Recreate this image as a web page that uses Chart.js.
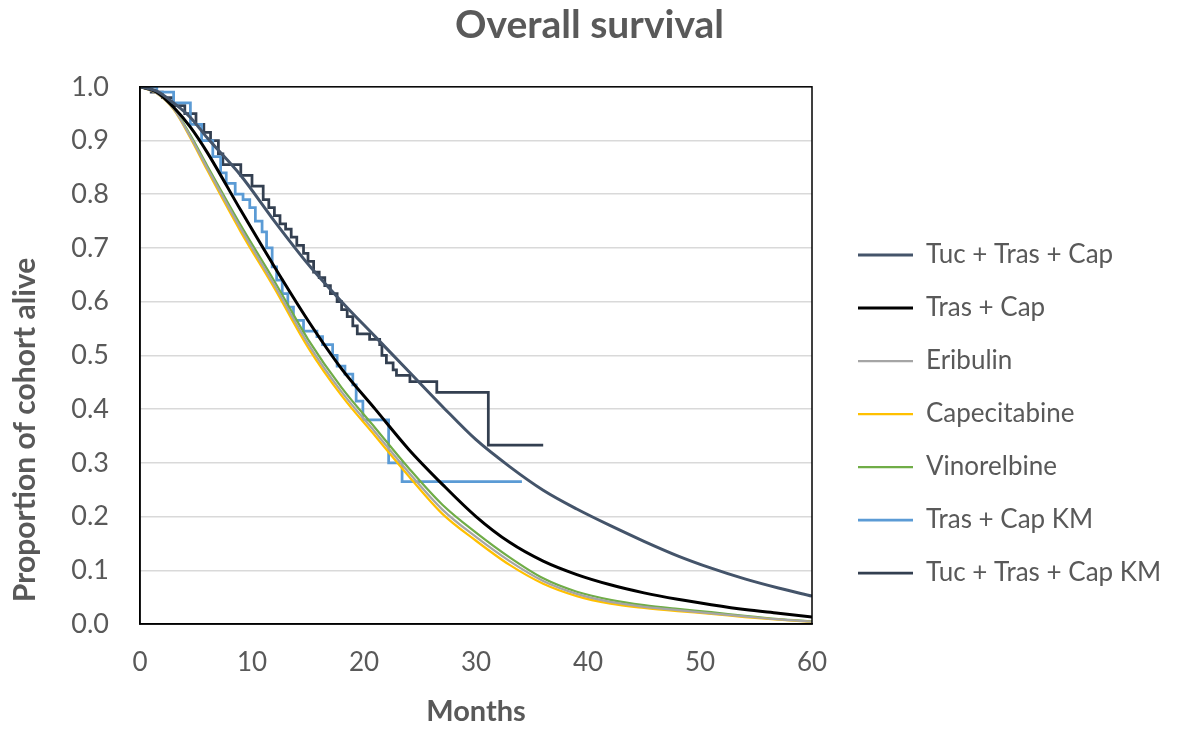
<!DOCTYPE html>
<html>
<head>
<meta charset="utf-8">
<title>Overall survival</title>
<script src="https://cdn.jsdelivr.net/npm/chart.js@4.4.1/dist/chart.umd.min.js"></script>
<style>
  html, body { margin: 0; padding: 0; background: #fff; }
</style>
</head>
<body>
<canvas id="survivalChart" width="1179" height="731"></canvas>
<script>
// modelled curves (closer spacing in the first months)
const curveMonths = [0, 1.5, 3, 4.5, 6, 9, 12, 15, 18, 21, 24, 27, 30, 33, 36, 39, 42, 45, 48, 51, 54, 57, 60];
const tucTrasCap = [1, 0.992, 0.97, 0.943, 0.905, 0.835, 0.75, 0.67, 0.6, 0.535, 0.47, 0.405, 0.343, 0.293, 0.249, 0.214, 0.183, 0.154, 0.127, 0.104, 0.084, 0.067, 0.052];
const trasCap = [1, 0.99, 0.962, 0.925, 0.878, 0.77, 0.665, 0.565, 0.475, 0.4, 0.325, 0.26, 0.2, 0.152, 0.117, 0.092, 0.073, 0.058, 0.046, 0.036, 0.027, 0.02, 0.013];
const eribulin = [1, 0.988, 0.959, 0.907, 0.849, 0.736, 0.631, 0.522, 0.432, 0.357, 0.282, 0.213, 0.162, 0.117, 0.08, 0.056, 0.041, 0.032, 0.026, 0.02, 0.014, 0.0085, 0.0045];
const capecitabine = [1, 0.988, 0.958, 0.905, 0.845, 0.73, 0.625, 0.515, 0.425, 0.35, 0.275, 0.205, 0.155, 0.11, 0.075, 0.052, 0.038, 0.03, 0.024, 0.019, 0.013, 0.008, 0.004];
const vinorelbine = [1, 0.989, 0.96, 0.91, 0.853, 0.742, 0.638, 0.53, 0.44, 0.365, 0.29, 0.222, 0.17, 0.124, 0.085, 0.06, 0.045, 0.035, 0.028, 0.022, 0.015, 0.009, 0.005];

// Kaplan-Meier steps (time of drop, survival after drop)
const kmTrasCapMonths = [0, 1.5, 3, 4.5, 5.5, 6.5, 7.2, 7.7, 8.5, 9.2, 9.8, 10.3, 10.9, 11.3, 11.8, 12.2, 12.7, 13.2, 13.7, 14.6, 15.8, 16.3, 17.2, 17.6, 18.3, 19.0, 19.3, 19.9, 22.2, 23.4, 34.1];
const kmTrasCapSurv = [1, 0.99, 0.97, 0.93, 0.90, 0.87, 0.84, 0.82, 0.80, 0.79, 0.775, 0.75, 0.73, 0.70, 0.665, 0.64, 0.615, 0.59, 0.565, 0.545, 0.535, 0.52, 0.50, 0.48, 0.465, 0.445, 0.415, 0.38, 0.30, 0.265, 0.265];
const kmTucMonths = [0, 1, 2, 3, 4, 5, 5.7, 6.3, 7, 7.4, 9, 10, 11, 11.5, 12, 12.5, 13, 13.5, 14, 14.6, 15, 15.5, 16, 16.5, 17, 17.6, 18, 18.5, 19, 19.4, 20.5, 21.4, 21.6, 22, 22.6, 22.9, 24.1, 26.5, 31.1, 36.0];
const kmTucSurv = [1, 0.99, 0.98, 0.965, 0.95, 0.93, 0.915, 0.9, 0.875, 0.855, 0.835, 0.815, 0.79, 0.775, 0.76, 0.745, 0.735, 0.72, 0.705, 0.69, 0.675, 0.655, 0.645, 0.63, 0.615, 0.6, 0.585, 0.572, 0.555, 0.54, 0.53, 0.52, 0.5, 0.486, 0.473, 0.463, 0.451, 0.431, 0.333, 0.333];

const xTicks = [0, 10, 20, 30, 40, 50, 60];
const yTicks = [0, 0.1, 0.2, 0.3, 0.4, 0.5, 0.6, 0.7, 0.8, 0.9, 1.0];

const fontFamily = 'Lato, "Open Sans", sans-serif';
const textGray = '#595959';

function toPoints(xs, ys) {
    return xs.map((x, i) => ({ x: x, y: ys[i] }));
}

function curve(label, ys, color, width) {
    return {
        label: label,
        data: toPoints(curveMonths, ys),
        borderColor: color,
        backgroundColor: color,
        borderWidth: width,
        pointRadius: 0,
        cubicInterpolationMode: 'monotone',
        fill: false
    };
}

function kmLine(label, xs, ys, color) {
    return {
        label: label,
        data: toPoints(xs, ys),
        borderColor: color,
        backgroundColor: color,
        borderWidth: 2.75,
        pointRadius: 0,
        stepped: 'before',   // stay level until the next time, then drop
        fill: false
    };
}

// black frame round the plot area
const plotFrame = {
    id: 'plotFrame',
    afterDraw(chart) {
        const a = chart.chartArea;
        const ctx = chart.ctx;
        ctx.save();
        ctx.strokeStyle = '#000';
        ctx.lineWidth = 1.5;
        ctx.strokeRect(a.left, a.top, a.right - a.left, a.bottom - a.top);
        ctx.restore();
    }
};

// the layout caps a side legend at a fraction of the width, give it the room it needs
const legendWidth = {
    id: 'legendWidth',
    beforeInit(chart) {
        const originalFit = chart.legend.fit;
        chart.legend.fit = function () {
            originalFit.call(this);
            this.width = 348;
        };
    }
};

const ctx = document.getElementById('survivalChart').getContext('2d');
new Chart(ctx, {
    type: 'line',
    data: {
        datasets: [
            curve('Tuc + Tras + Cap', tucTrasCap, '#44546a', 3),
            curve('Tras + Cap', trasCap, '#000000', 3),
            curve('Eribulin', eribulin, '#a5a5a5', 2.25),
            curve('Capecitabine', capecitabine, '#ffc000', 2.25),
            curve('Vinorelbine', vinorelbine, '#70ad47', 2.25),
            kmLine('Tras + Cap KM', kmTrasCapMonths, kmTrasCapSurv, '#5b9bd5'),
            kmLine('Tuc + Tras + Cap KM', kmTucMonths, kmTucSurv, '#333f50')
        ]
    },
    options: {
        responsive: false,
        animation: false,
        layout: { padding: { left: 0, right: 0, top: 0, bottom: 0 } },
        plugins: {
            title: {
                display: true,
                text: 'Overall survival',
                color: textGray,
                font: { family: fontFamily, size: 39, weight: 'bold' },
                padding: { top: 2, bottom: 38 }
            },
            legend: {
                position: 'right',
                align: 'start',
                title: { display: true, text: ' ', font: { size: 10 }, padding: { top: 203, bottom: 0 } },
                labels: {
                    usePointStyle: true,
                    pointStyle: 'line',
                    pointStyleWidth: 55,
                    color: textGray,
                    font: { family: fontFamily, size: 26 },
                    padding: 27
                }
            },
            tooltip: { enabled: false }
        },
        scales: {
            x: {
                type: 'linear',
                min: 0,
                max: 60,
                afterBuildTicks: (scale) => { scale.ticks = xTicks.map(v => ({ value: v })); },
                afterFit: (scale) => { scale.height = 107; },
                ticks: { color: textGray, font: { family: fontFamily, size: 26 }, padding: 23 },
                grid: { display: false, drawTicks: false },
                border: { color: '#000', width: 1.5 },
                title: {
                    display: true,
                    text: 'Months',
                    color: textGray,
                    font: { family: fontFamily, size: 29, weight: 'bold' },
                    padding: { top: 0, bottom: 2 }
                }
            },
            y: {
                min: 0,
                max: 1,
                afterBuildTicks: (scale) => { scale.ticks = yTicks.map(v => ({ value: v })); },
                afterFit: (scale) => { scale.width = 140; },
                ticks: { color: textGray, font: { family: fontFamily, size: 27 }, padding: 31, callback: (v) => v.toFixed(1) },
                grid: { color: '#d9d9d9', lineWidth: 1.5, drawTicks: false },
                border: { color: '#000', width: 1.5 },
                title: {
                    display: true,
                    align: 'start',
                    text: '   Proportion of cohort alive',
                    color: textGray,
                    font: { family: fontFamily, size: 30, weight: 'bold' },
                    padding: { top: 7, bottom: 0 }
                }
            },
            gap: {
                type: 'linear',
                position: 'right',
                display: true,
                afterFit: (scale) => { scale.width = 19; },
                ticks: { display: false },
                grid: { display: false, drawTicks: false },
                border: { display: false }
            }
        }
    },
    plugins: [plotFrame, legendWidth]
});
</script>
</body>
</html>
